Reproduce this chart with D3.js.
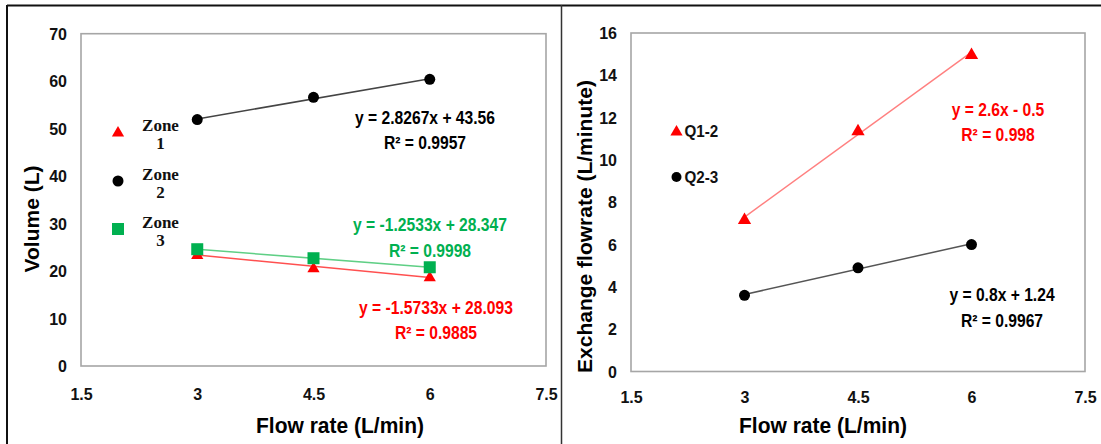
<!DOCTYPE html>
<html><head><meta charset="utf-8">
<script src="https://cdn.jsdelivr.net/npm/d3@7"></script>
<style>
html,body{margin:0;padding:0;background:#fff;}
svg{display:block;}
.cal{font-family:"Liberation Sans",Arial,sans-serif;font-weight:bold;}
.ser{font-family:"Liberation Serif","DejaVu Serif",serif;font-weight:bold;}
</style></head>
<body>
<script>
// ---- data ----
const flowRates = [3, 4.5, 6];
const xTicks = [1.5, 3, 4.5, 6, 7.5];
const volTicks = [0, 10, 20, 30, 40, 50, 60, 70];
const exTicks = [0, 2, 4, 6, 8, 10, 12, 14, 16];
const zone1 = [23.5, 20.7, 18.8];
const zone2 = [51.9, 56.6, 60.4];
const zone3 = [24.6, 22.7, 20.8];
const q12 = [7.2, 11.4, 15.0];
const q23 = [3.6, 4.9, 6.0];
const zoneFits = [[-1.5733, 28.093], [2.8267, 43.56], [-1.2533, 28.347]];
const qFits = [[2.6, -0.5], [0.8, 1.24]];
const zoneNames = ["Zone 1", "Zone 2", "Zone 3"];
const qNames = ["Q1-2", "Q2-3"];
const zoneEq = ["y = -1.5733x + 28.093", "y = 2.8267x + 43.56", "y = -1.2533x + 28.347"];
const zoneR2 = ["R² = 0.9885", "R² = 0.9957", "R² = 0.9998"];
const qEq = ["y = 2.6x - 0.5", "y = 0.8x + 1.24"];
const qR2 = ["R² = 0.998", "R² = 0.9967"];

const W = 1101, H = 444;
const svg = d3.select("body").append("svg").attr("width", W).attr("height", H);

// outer frame
svg.append("line").attr("x1", 7).attr("x2", W).attr("y1", 5.5).attr("y2", 5.5).attr("stroke", "#111").attr("stroke-width", 2);
svg.append("line").attr("x1", 7).attr("x2", 7).attr("y1", 5).attr("y2", H).attr("stroke", "#111").attr("stroke-width", 2);
svg.append("line").attr("x1", 561.5).attr("x2", 561.5).attr("y1", 5).attr("y2", H).attr("stroke", "#333").attr("stroke-width", 1.5);

function marker(g, type, cx, cy, color, s) {
  if (type === "tri") {
    g.append("path").attr("d", d3.symbol(d3.symbolTriangle, s * s * 0.45)()).attr("transform", `translate(${cx},${cy + 1})`).attr("fill", color);
  } else if (type === "circ") {
    g.append("circle").attr("cx", cx).attr("cy", cy).attr("r", s / 2).attr("fill", color);
  } else {
    g.append("rect").attr("x", cx - s / 2).attr("y", cy - s / 2).attr("width", s).attr("height", s).attr("fill", color);
  }
}

// condensed, slightly tall text (Calibri-like)
function ctext(g, x, y, str, size, color, anchor, sx, sy) {
  return g.append("text").attr("class", "cal")
    .attr("transform", `translate(${x},${y}) scale(${sx || 0.92},${sy || 1.08})`)
    .attr("dy", "0.35em").attr("text-anchor", anchor || "middle")
    .style("font-size", size + "px").attr("fill", color).text(str);
}

function panel(opt) {
  const g = svg.append("g");
  const x = d3.scaleLinear().domain([1.5, 7.5]).range([opt.left, opt.right]);
  const y = d3.scaleLinear().domain(opt.ydom).range([opt.bottom, opt.top]);
  g.append("rect").attr("x", opt.left).attr("y", opt.top).attr("width", opt.right - opt.left).attr("height", opt.bottom - opt.top)
    .attr("fill", "none").attr("stroke", "#a6a6a6").attr("stroke-width", 1.6);
  const ya = g.append("g").attr("transform", `translate(${opt.left},0)`)
    .call(d3.axisLeft(y).tickValues(opt.yticks).tickSize(0).tickPadding(14).tickFormat(d3.format("d")));
  ya.select(".domain").remove();
  ya.selectAll("text").attr("class", "cal").style("font-size", "16px").attr("fill", "#111").attr("dy", "0.35em");
  const xa = g.append("g").attr("transform", `translate(0,${opt.bottom})`)
    .call(d3.axisBottom(x).tickValues(xTicks).tickSize(0).tickPadding(opt.xpad).tickFormat(d => String(d)));
  xa.select(".domain").remove();
  xa.selectAll("text").attr("class", "cal").style("font-size", "16px").attr("fill", "#111");
  ctext(g, opt.xtx, 425, "Flow rate (L/min)", 21, "#000", "middle", 1, 1.08);
  g.append("text").attr("class", "cal").attr("transform", `translate(${opt.ytx},${opt.yty}) rotate(-90)`).attr("dy", "0.35em")
    .attr("text-anchor", "middle").style("font-size", "21px").attr("fill", "#000").text(opt.ytitle);
  return { g, x, y };
}

// ---- left panel ----
const L = panel({ left: 81, right: 546, top: 33.7, bottom: 366, ydom: [0, 70], yticks: volTicks, xpad: 23,
  xtx: 340, ytx: 32, yty: 219, ytitle: "Volume (L)" });
const zoneData = [zone1, zone2, zone3];
const zoneMarkers = ["tri", "circ", "sq"];
const zoneColors = ["#ff0000", "#000000", "#00b050"];
const zoneLineColors = ["#ff5050", "#444444", "#5fcf85"];
const zoneSizes = [12, 11, 12];
zoneFits.forEach((f, i) => {
  L.g.append("line").attr("x1", L.x(flowRates[0])).attr("x2", L.x(flowRates[2]))
    .attr("y1", L.y(f[0] * flowRates[0] + f[1])).attr("y2", L.y(f[0] * flowRates[2] + f[1]))
    .attr("stroke", zoneLineColors[i]).attr("stroke-width", 1.5);
});
[0, 2, 1].forEach(i => {
  zoneData[i].forEach((v, j) => marker(L.g, zoneMarkers[i], L.x(flowRates[j]), L.y(v), zoneColors[i], zoneSizes[i]));
});
const zoneEqPos = [[436, 308, 333], [425, 118, 143], [430, 225, 250.5]];
zoneEq.forEach((t, i) => {
  const p = zoneEqPos[i];
  ctext(L.g, p[0], p[1], t, 17, zoneColors[i]);
  ctext(L.g, p[0], p[2], zoneR2[i], 17, zoneColors[i]);
});
const legY = [132, 181, 229];
zoneNames.forEach((n, i) => {
  marker(L.g, zoneMarkers[i], 118, legY[i], zoneColors[i], zoneSizes[i]);
  const parts = n.split(" ");
  const t = L.g.append("text").attr("class", "ser").attr("text-anchor", "middle").style("font-size", "17px").attr("fill", "#111");
  t.append("tspan").attr("x", 160.5).attr("y", legY[i] - 7).attr("dy", "0.35em").text(parts[0]);
  t.append("tspan").attr("x", 160.5).attr("y", legY[i] + 11).attr("dy", "0.35em").text(parts[1]);
});

// ---- right panel ----
const R = panel({ left: 631, right: 1085, top: 33, bottom: 371.5, ydom: [0, 16], yticks: exTicks, xpad: 20,
  xtx: 823, ytx: 585, yty: 226.5, ytitle: "Exchange flowrate (L/minute)" });
const qData = [q12, q23];
const qMarkers = ["tri", "circ"];
const qColors = ["#ff0000", "#000000"];
const qLineColors = ["#ff8080", "#555555"];
const qSizes = [13, 11];
qFits.forEach((f, i) => {
  R.g.append("line").attr("x1", R.x(flowRates[0])).attr("x2", R.x(flowRates[2]))
    .attr("y1", R.y(f[0] * flowRates[0] + f[1])).attr("y2", R.y(f[0] * flowRates[2] + f[1]))
    .attr("stroke", qLineColors[i]).attr("stroke-width", 1.5);
});
qData.forEach((d, i) => d.forEach((v, j) => marker(R.g, qMarkers[i], R.x(flowRates[j]), R.y(v), qColors[i], qSizes[i])));
const qEqPos = [[998, 110, 135], [1002, 295, 320.5]];
qEq.forEach((t, i) => {
  const p = qEqPos[i];
  ctext(R.g, p[0], p[1], t, 17, qColors[i]);
  ctext(R.g, p[0], p[2], qR2[i], 17, qColors[i]);
});
const qLegY = [131, 177];
qNames.forEach((n, i) => {
  marker(R.g, qMarkers[i], 676.5, qLegY[i], qColors[i], i === 0 ? 12 : 10);
  ctext(R.g, 684.5, qLegY[i], n, 16, "#111", "start", 0.95, 1.08);
});
</script>
</body></html>
